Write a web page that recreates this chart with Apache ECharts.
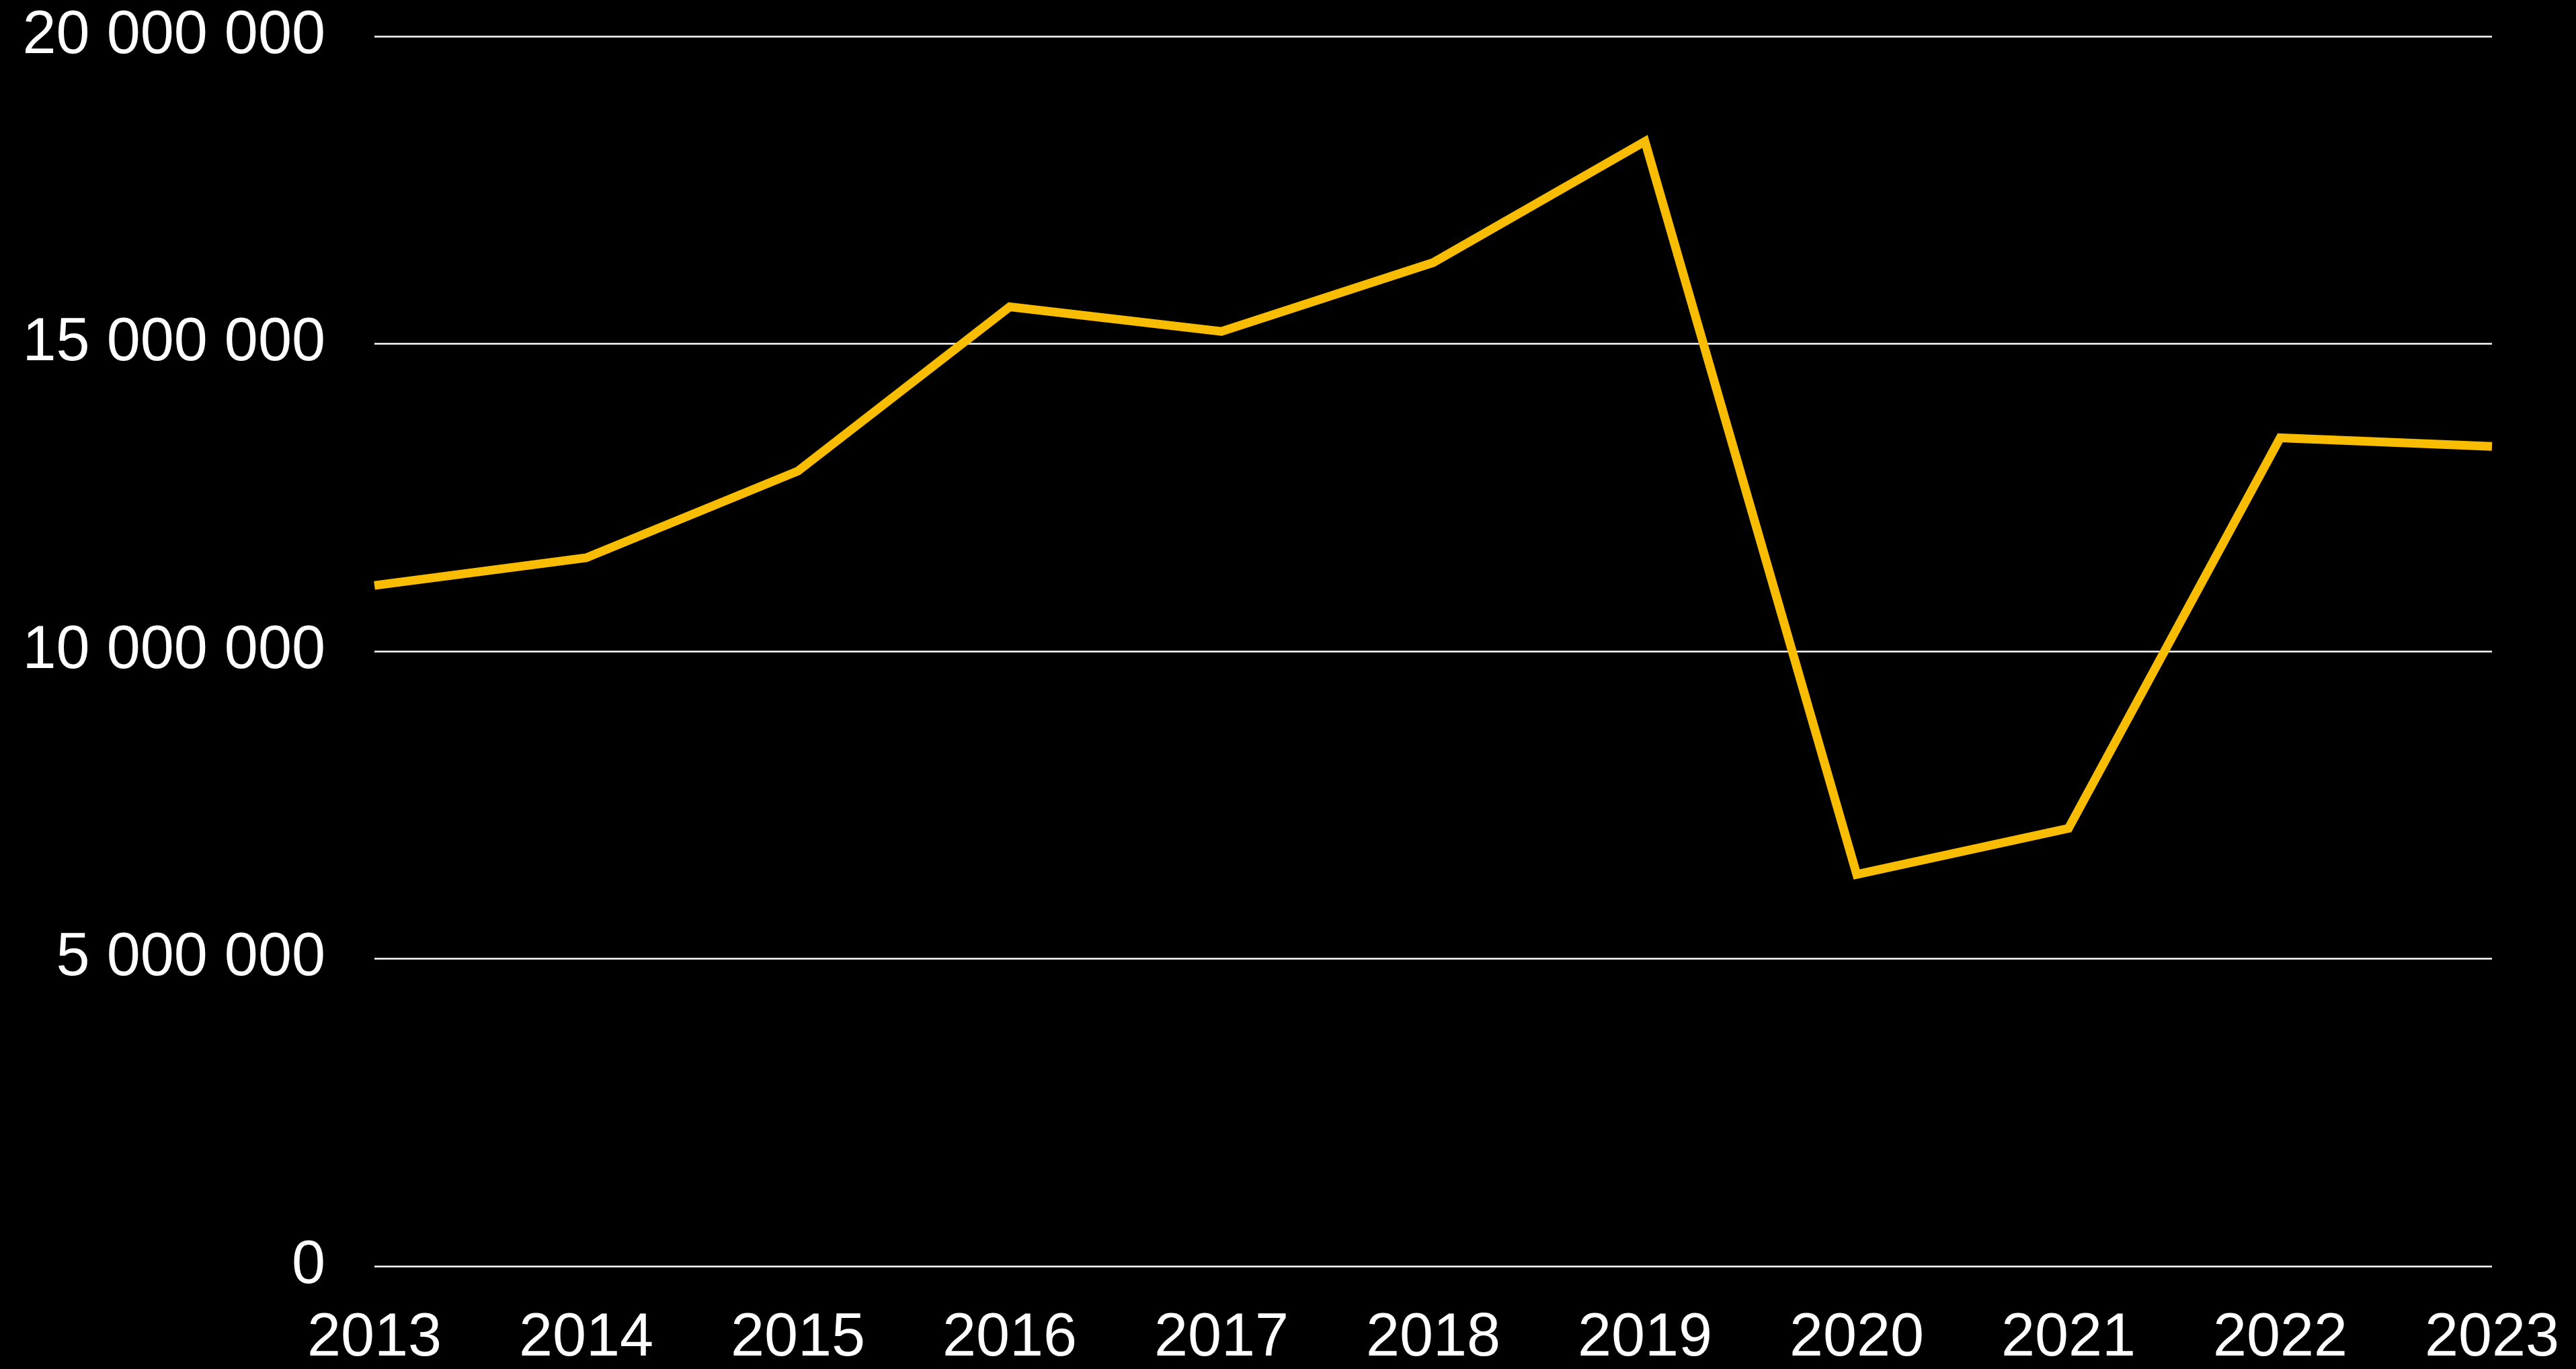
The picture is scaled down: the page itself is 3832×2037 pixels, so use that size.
<!DOCTYPE html>
<html>
<head>
<meta charset="utf-8">
<script src="https://cdn.jsdelivr.net/npm/echarts@6/dist/echarts.min.js"></script>
<style>
  html, body { margin: 0; padding: 0; background: #000; }
  #chart { width: 3832px; height: 2037px; }
</style>
</head>
<body>
<div id="chart"></div>
<script>
// years on the x axis
const years = ['2013', '2014', '2015', '2016', '2017', '2018', '2019', '2020', '2021', '2022', '2023']
// values
const values = [11070000, 11520000, 12930000, 15600000, 15200000, 16320000, 18290000, 6370000, 7120000, 13470000, 13330000]
const yTicks = [0, 5000000, 10000000, 15000000, 20000000]

const chart = echarts.init(document.getElementById('chart'))

function spaced(v) {
  // 20000000 -> "20 000 000"
  return String(v).replace(/\B(?=(\d{3})+(?!\d))/g, ' ')
}

const option = {
  backgroundColor: '#000',
  animation: false,
  grid: {
    left: 557,
    right: 125,
    top: 54,
    bottom: 150
  },
  xAxis: {
    type: 'category',
    data: years,
    boundaryGap: false,
    axisLine: { show: false },
    axisTick: { show: false },
    axisLabel: {
      color: '#fff',
      fontFamily: 'Liberation Sans',
      fontSize: 90,
      margin: 63,
      interval: 0
    },
    splitLine: { show: false }
  },
  yAxis: {
    type: 'value',
    min: yTicks[0],
    max: yTicks[yTicks.length - 1],
    interval: 5000000,
    axisLine: { show: false },
    axisTick: { show: false },
    axisLabel: {
      color: '#fff',
      fontFamily: 'Liberation Sans',
      fontSize: 90,
      margin: 73,
      formatter: spaced
    },
    splitLine: {
      show: true,
      lineStyle: { color: '#fff', width: 2.5 }
    }
  },
  series: [
    {
      type: 'line',
      data: values,
      symbol: 'none',
      lineStyle: { color: '#F8BC00', width: 13, cap: 'butt', join: 'miter' },
      itemStyle: { color: '#F8BC00' }
    }
  ]
}

chart.setOption(option)
</script>
</body>
</html>
